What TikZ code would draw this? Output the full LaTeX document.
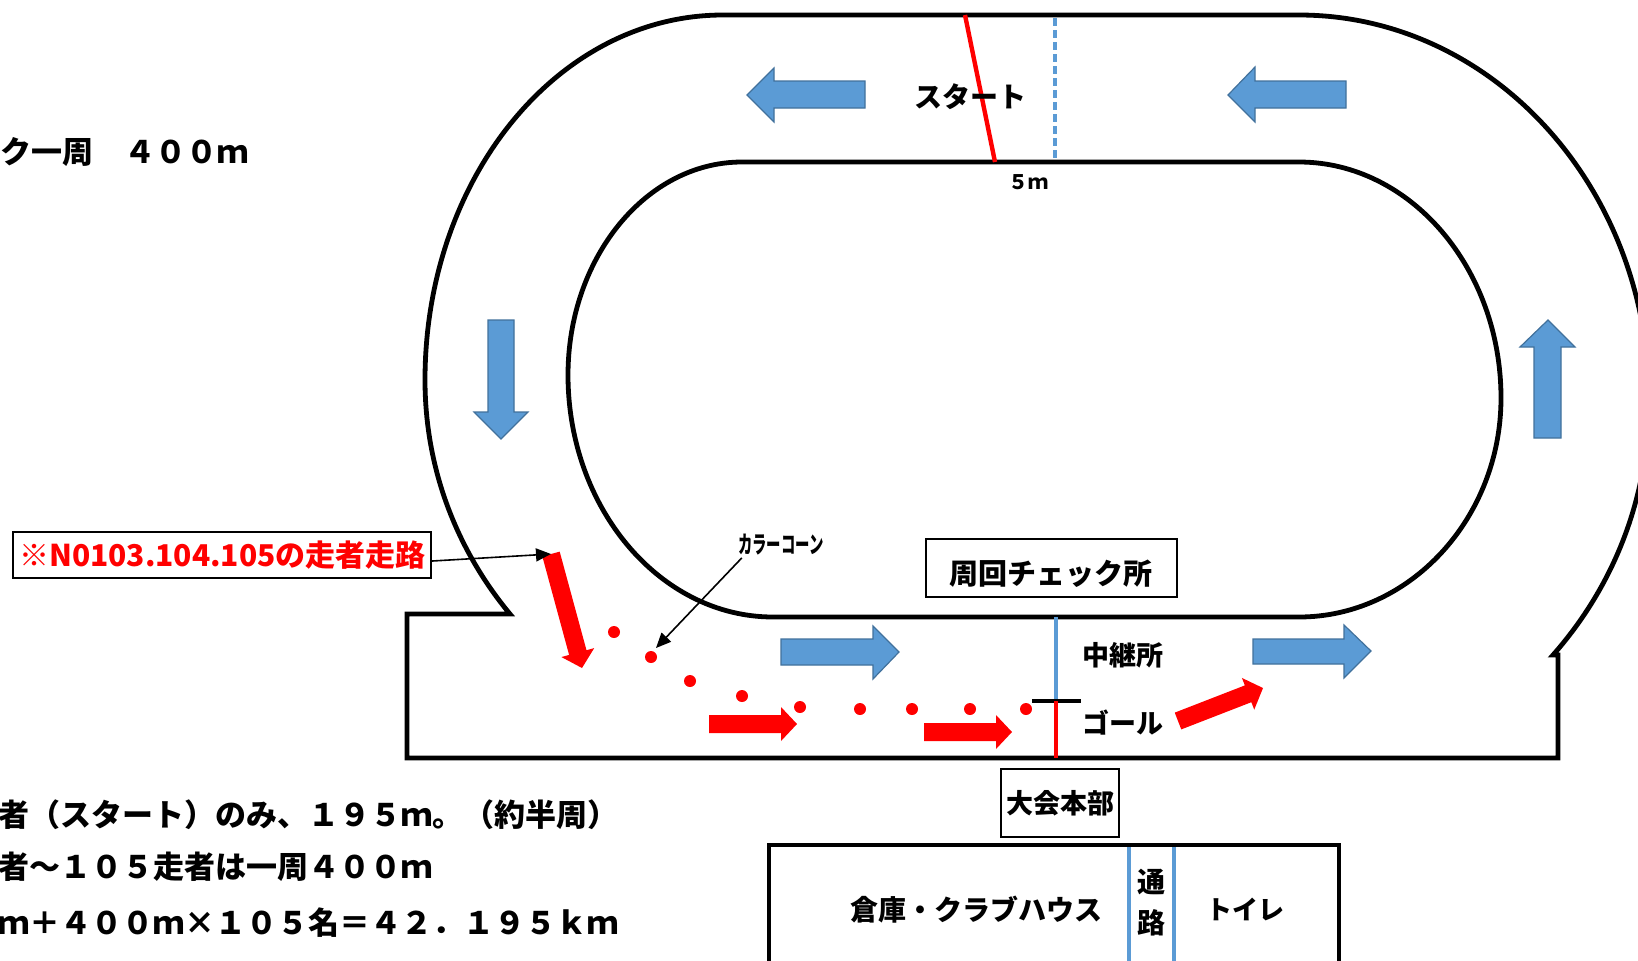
\documentclass[tikz,border=0pt]{standalone}
\usepackage{fontspec}
\usepackage{graphicx}
\setmainfont{Noto Sans CJK JP}
\usetikzlibrary{calc,arrows.meta}
\definecolor{bfill}{HTML}{5B9BD5}
\definecolor{bdraw}{HTML}{41719C}
\newcommand\fsz[1]{\fontsize{#1}{#1}\selectfont}
\newcommand\blockarrow[2]{%
  \path ($(#2)!8pt!(#1)$) coordinate (hb);
  \fill[rarrow] ($(#1)!4.5pt!90:(#2)$) -- ($(hb)!4.5pt!90:(#2)$) -- ($(hb)!8.5pt!90:(#2)$) -- (#2)
     -- ($(hb)!8.5pt!-90:(#2)$) -- ($(hb)!4.5pt!-90:(#2)$) -- ($(#1)!4.5pt!-90:(#2)$) -- cycle;}
\begin{document}
\begin{tikzpicture}[x=0.5pt,y=-0.5pt,
  track/.style={draw=black, line width=2.4pt, line join=miter},
  barrow/.style={fill=bfill, draw=bdraw, line width=0.6pt},
  rarrow/.style={fill=red},
  dot/.style={fill=red},
  bline/.style={draw=bfill, line width=1.6pt},
  leader/.style={draw=black, line width=0.8pt, -{Triangle[length=7.5pt,width=6.5pt]}},
  txt/.style={font=\bfseries\fsz{14pt}, inner sep=0pt},
  note/.style={font=\bfseries\fsz{15.5pt}, inner sep=0pt, anchor=west},
  frame/.style={draw=black, line width=1.1pt, inner sep=0pt}]
\clip (0,0) rectangle (1638,960);
\fill[white] (0,0) rectangle (1638,960);

% outer track
\draw[track] (723,15) -- (1299,15) .. controls (1492,15) and (1649,187) .. (1649,400)
  .. controls (1649,499) and (1613,587) .. (1553,655) -- (1558,655) -- (1558,758)
  -- (407,758) -- (407,614) -- (510,614) .. controls (465,560) and (425,480) .. (425,380)
  .. controls (425,178) and (558,15) .. (723,15) -- cycle;
% inner track
\draw[track] (742,162) -- (1299,162) .. controls (1410,162) and (1501,268) .. (1501,398)
  .. controls (1501,518) and (1410,617) .. (1299,617) -- (773,617)
  .. controls (660,617) and (568,508) .. (568,375) .. controls (568,258) and (646,162) .. (742,162) -- cycle;

% start lines
\draw[red, line width=2.2pt] (965,15) -- (995,162);
\draw[bline, line width=1.8pt, dash pattern=on 4pt off 2pt] (1055,18) -- (1055,160);
\node[txt] (start) at (970,97) {スタート};
\node[font=\bfseries\fsz{10pt}, inner sep=0pt] (fivem) at (1028,182) {５ｍ};

% blue arrows
\draw[barrow] (865,81) -- (774,81) -- (774,68) -- (747,95) -- (774,122) -- (774,108) -- (865,108) -- cycle;
\draw[barrow] (1346,81) -- (1255,81) -- (1255,67) -- (1228,95) -- (1255,122) -- (1255,108) -- (1346,108) -- cycle;
\draw[barrow] (488,320) -- (514,320) -- (514,412) -- (528,412) -- (501,439) -- (474,412) -- (488,412) -- cycle;
\draw[barrow] (1534,438) -- (1561,438) -- (1561,347) -- (1575,347) -- (1548,320) -- (1520,347) -- (1534,347) -- cycle;
\draw[barrow] (781,639) -- (873,639) -- (873,626) -- (899,652) -- (873,679) -- (873,665) -- (781,665) -- cycle;
\draw[barrow] (1253,639) -- (1344,639) -- (1344,625) -- (1371,651) -- (1344,678) -- (1344,664) -- (1253,664) -- cycle;

% red arrows
\coordinate (ra1s) at (551,554); \coordinate (ra1e) at (582,668);
\coordinate (ra2s) at (709,724); \coordinate (ra2e) at (797,724);
\coordinate (ra3s) at (924,732); \coordinate (ra3e) at (1012,732);
\coordinate (ra4s) at (1178,721); \coordinate (ra4e) at (1263,688);
\blockarrow{ra1s}{ra1e}
\blockarrow{ra2s}{ra2e}
\blockarrow{ra3s}{ra3e}
\blockarrow{ra4s}{ra4e}

% cones
\foreach \p in {(614,632),(651,657),(690,681),(742,696),(800,707),(860,709),(912,709),(970,709),(1026,709)}
  \fill[dot] \p circle (3pt);

% relay / goal
\draw[bline] (1056,617) -- (1056,701);
\draw[black, line width=1.6pt] (1032,701) -- (1081,701);
\draw[red, line width=1.6pt] (1056,701) -- (1056,758);
\node[txt, font=\bfseries\fsz{13.5pt}, anchor=west] (relay) at (1082,655) {中継所};
\node[txt, font=\bfseries\fsz{13.5pt}, anchor=west] (goal) at (1082,723) {ゴール};

% check box
\node[frame, minimum width=125.5pt, minimum height=29pt] (check) at (1051.5,568) {};
\node[txt, font=\bfseries\fsz{14.5pt}] (checkt) at (1051,574) {周回チェック所};

% runner label
\node[frame, anchor=west, text width=203pt, inner xsep=3pt, minimum height=23pt, align=left,
      text=red, font=\bfseries\fsz{15pt}] (runlbl) at (12,555) {※N0103.104.105の走者走路};
\draw[leader] ([yshift=-3pt]runlbl.east) -- (ra1s);

% cone label
\node[font=\bfseries\fsz{12pt}, inner sep=1pt] (cone) at (781,545) {\scalebox{0.6}[1]{カラーコーン}};
\coordinate (conetip) at (656,648);
\draw[leader] ([xshift=3pt]cone.south west) -- (conetip);

% HQ
\node[frame, minimum width=59pt, minimum height=34pt, font=\bfseries\fsz{13.5pt}] (hq) at (1060,803) {大会本部};

% building
\draw[black, line width=2.4pt] (769,990) -- (769,845) -- (1339,845) -- (1339,990);
\draw[bline] (1129,847) -- (1129,990);
\draw[bline] (1174,847) -- (1174,990);
\node[txt] (house) at (976,910) {倉庫・クラブハウス};
\node[txt] (pass1) at (1151,882) {通};
\node[txt] (pass2) at (1151,923) {路};
\node[txt, font=\bfseries\fsz{13pt}] (toilet) at (1245,909) {トイレ};

% notes
\node[note] (lap) at (0,152) {ク一周　４００ｍ};
\node[note] (n1) at (-2,815) {者（スタート）のみ、１９５ｍ。（約半周）};
\node[note] (n2) at (-2,867) {者～１０５走者は一周４００ｍ};
\node[note] (n3) at (-2,923) {ｍ＋４００ｍ×１０５名＝４２．１９５ｋｍ};
\end{tikzpicture}
\end{document}
